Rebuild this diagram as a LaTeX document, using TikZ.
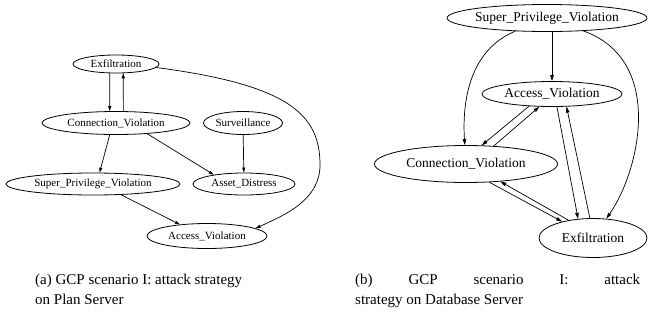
\documentclass[tikz,border=0pt]{standalone}
\usepackage{fontspec}
\setmainfont{Liberation Serif}
\usetikzlibrary{shapes.geometric,arrows.meta}
\newcommand{\nt}[1]{\makebox[0pt][c]{#1}}
\begin{document}
\begin{tikzpicture}[x=1pt,y=-1pt,
  nd/.style={ellipse,draw,line width=0.8pt,inner sep=0pt},
  ls/.style={nd,font=\fontsize{11}{13}\selectfont},
  rs/.style={nd,font=\fontsize{13.5}{16}\selectfont},
  la/.style={draw,line width=0.7pt,-{Triangle[length=5pt,width=3pt]}},
  ra/.style={draw,line width=0.7pt,-{Triangle[length=6pt,width=3.5pt]}},
  captxt/.style={anchor=base west,inner sep=0pt,font=\fontsize{15}{18}\selectfont}]
\useasboundingbox (0,0) rectangle (648,322);
% left graph
\node[ls,minimum width=86pt,minimum height=18pt] (ex) at (116,64) {\nt{Exfiltration}};
\node[ls,minimum width=148pt,minimum height=23pt] (cv) at (116,123) {\nt{Connection\_Violation}};
\node[ls,minimum width=79pt,minimum height=23pt] (sv) at (243,123) {\nt{Surveillance}};
\node[ls,minimum width=174pt,minimum height=22pt] (spv) at (93,184) {\nt{Super\_Privilege\_Violation}};
\node[ls,minimum width=102pt,minimum height=22pt] (ad) at (244,184) {\nt{Asset\_Distress}};
\node[ls,minimum width=120pt,minimum height=25pt] (av) at (207,236) {\nt{Access\_Violation}};
\draw[la] (ex.236) -- (cv.118);
\draw[la] (cv.58) -- (ex.308);
\draw[la] (cv.242) -- (spv.60);
\draw[la] (cv.341) -- (ad.163);
\draw[la] (sv) -- (ad);
\draw[la] (spv.339) -- (av.157);
\coordinate (bend) at (320,165);
\draw[la] (ex.-5) .. controls (290,85) and (320,115) .. (bend) .. controls (320,200) and (285,215) .. (av.9);
% right graph
\node[rs,minimum width=200pt,minimum height=27pt] (spv2) at (547,18) {\nt{Super\_Privilege\_Violation}};
\node[rs,minimum width=140pt,minimum height=25pt] (av2) at (552,94) {\nt{Access\_Violation}};
\node[rs,minimum width=183pt,minimum height=37pt] (cv2) at (466,164) {\nt{Connection\_Violation}};
\node[rs,minimum width=108pt,minimum height=39pt] (ex2) at (593,238) {\nt{Exfiltration}};
\draw[ra] (spv2.south -| av2.north) -- (av2.north);
\draw[ra] (spv2) .. controls (470,50) and (462,100) .. (cv2);
\draw[ra] (spv2) .. controls (665,60) and (640,170) .. (ex2);
\draw[ra] (av2.208) -- (cv2.50);
\draw[ra] (cv2.33) -- (av2.225);
\draw[ra] (av2.291) -- (ex2.128);
\draw[ra] (ex2.99) -- (av2.319);
\draw[ra] (cv2.322) -- (ex2.152);
\draw[ra] (ex2.144) -- (cv2.333);
% captions
\node[captxt] (capa1) at (35,284) {(a) GCP scenario I: attack strategy};
\node[captxt] (capa2) at (35,304) {on Plan Server};
\node[captxt] (capb1) at (355,284) {\makebox[285pt][s]{(b) GCP scenario I: attack}};
\node[captxt] (capb2) at (355,304) {strategy on Database Server};
\end{tikzpicture}
\end{document}
